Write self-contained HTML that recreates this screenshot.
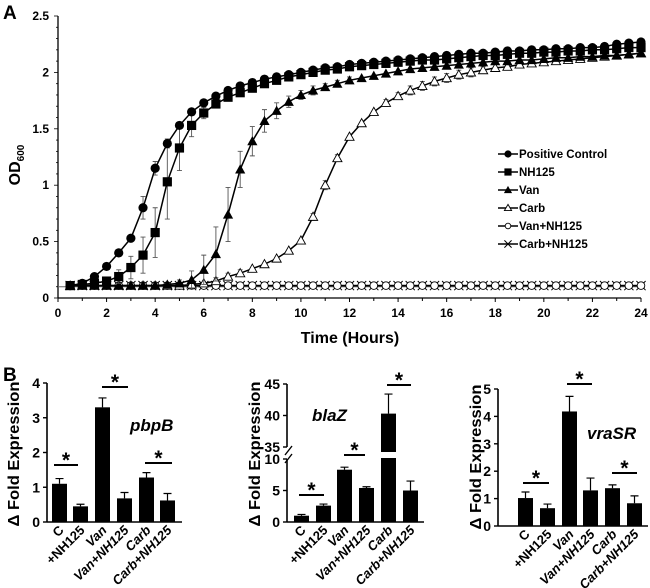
<!DOCTYPE html>
<html><head><meta charset="utf-8"><style>
html,body{margin:0;padding:0;background:#fff;}
svg{display:block;font-family:"Liberation Sans",Arial,sans-serif;font-weight:bold;}
</style></head><body>
<svg id="fig" width="650" height="588" viewBox="0 0 650 588" xmlns="http://www.w3.org/2000/svg">
<text x="3" y="19" font-size="19">A</text>
<text x="3" y="381" font-size="19">B</text>
<g id="topchart"></g>
<g id="bars"></g>
</svg>
<script>
// ---------- Growth curve data ----------
const times = [];
for (let i = 1; i <= 48; i++) times.push(i * 0.5);
const seriesNames = ["Positive Control","NH125","Van","Carb","Van+NH125","Carb+NH125"];
const pcVals = [0.11,0.13,0.19,0.28,0.4,0.53,0.8,1.15,1.37,1.53,1.65,1.73,1.79,1.84,1.88,1.91,1.94,1.96,1.98,2.0,2.02,2.04,2.05,2.07,2.08,2.09,2.1,2.11,2.12,2.13,2.14,2.15,2.16,2.17,2.17,2.18,2.19,2.19,2.2,2.2,2.21,2.21,2.22,2.22,2.23,2.25,2.26,2.27];
const nhVals = [0.11,0.12,0.13,0.15,0.19,0.27,0.38,0.58,1.03,1.33,1.53,1.64,1.72,1.78,1.82,1.86,1.9,1.93,1.96,1.98,2.0,2.02,2.03,2.05,2.06,2.07,2.08,2.09,2.1,2.11,2.11,2.12,2.13,2.14,2.15,2.15,2.16,2.17,2.17,2.18,2.18,2.19,2.19,2.2,2.2,2.21,2.22,2.22];
const vanVals = [0.11,0.11,0.11,0.11,0.11,0.11,0.11,0.11,0.12,0.13,0.16,0.25,0.39,0.74,1.14,1.39,1.57,1.66,1.74,1.8,1.84,1.87,1.9,1.93,1.95,1.97,1.99,2.01,2.03,2.04,2.05,2.06,2.07,2.08,2.09,2.1,2.1,2.11,2.11,2.12,2.13,2.13,2.14,2.14,2.15,2.15,2.16,2.17];
const carbVals = [0.11,0.11,0.11,0.11,0.11,0.11,0.11,0.11,0.11,0.11,0.12,0.13,0.15,0.19,0.22,0.26,0.3,0.35,0.42,0.51,0.72,1.0,1.24,1.43,1.55,1.65,1.73,1.79,1.84,1.88,1.92,1.95,1.98,2.0,2.02,2.04,2.05,2.07,2.08,2.09,2.1,2.11,2.12,2.13,2.14,2.15,2.16,2.17];
const vanNhVals = Array(48).fill(0.11);
const carbNhVals = Array(48).fill(0.11);
const pcErr = [0.01,0.01,0.02,0.02,0.02,0.02,0.1,0.06,0.04,0.02,0.02,0.02,0.02,0.02,0.02,0.02,0.02,0.02,0.02,0.02,0.02,0.02,0.02,0.02,0.02,0.02,0.02,0.02,0.02,0.02,0.02,0.02,0.02,0.02,0.02,0.02,0.02,0.02,0.02,0.02,0.02,0.02,0.02,0.02,0.02,0.02,0.02,0.02];
const nhErr = [0.01,0.01,0.01,0.02,0.06,0.1,0.16,0.22,0.33,0.2,0.1,0.05,0.03,0.02,0.02,0.02,0.02,0.02,0.02,0.02,0.02,0.02,0.02,0.02,0.02,0.02,0.02,0.02,0.02,0.02,0.02,0.02,0.02,0.02,0.02,0.02,0.02,0.02,0.02,0.02,0.02,0.02,0.02,0.02,0.02,0.02,0.02,0.02];
const vanErr = [0.01,0.01,0.01,0.01,0.01,0.01,0.01,0.01,0.01,0.03,0.08,0.13,0.24,0.24,0.16,0.13,0.1,0.07,0.05,0.04,0.04,0.03,0.03,0.03,0.02,0.02,0.02,0.02,0.02,0.02,0.02,0.02,0.02,0.02,0.02,0.02,0.02,0.02,0.02,0.02,0.02,0.02,0.02,0.02,0.02,0.02,0.02,0.02];
const carbErr = [0.01,0.01,0.01,0.01,0.01,0.01,0.01,0.01,0.01,0.01,0.01,0.02,0.03,0.03,0.03,0.02,0.02,0.02,0.02,0.02,0.03,0.04,0.03,0.02,0.02,0.02,0.03,0.03,0.04,0.04,0.04,0.04,0.04,0.04,0.03,0.03,0.02,0.02,0.02,0.02,0.02,0.02,0.02,0.02,0.02,0.02,0.02,0.02];
const yTicks = [0,0.5,1,1.5,2,2.5];
const yTickLabels = ["0","0.5","1","1.5","2","2.5"];
const xTicks = [0,2,4,6,8,10,12,14,16,18,20,22,24];

// ---------- Bar data ----------
const barCats = ["C","+NH125","Van","Van+NH125","Carb","Carb+NH125"];
const barItalic = [false,false,true,true,true,true];
const pbpbVals = [1.1,0.45,3.3,0.68,1.28,0.62];
const pbpbErr = [0.15,0.06,0.27,0.17,0.14,0.2];
const blazVals = [1.0,2.6,8.3,5.4,40.3,5.0];
const blazErr = [0.2,0.25,0.4,0.2,3.1,1.5];
const vrasrVals = [1.02,0.65,4.18,1.3,1.38,0.83];
const vrasrErr = [0.22,0.15,0.55,0.45,0.12,0.27];
const pbpbTicks = [0,1,2,3,4];
const blazLowTicks = [0,5,10];
const blazHighTicks = [35,40,45];
const vrasrTicks = [0,1,2,3,4,5];

const NS = "http://www.w3.org/2000/svg";
function mk(tag, attrs, parent, text) {
  const e = document.createElementNS(NS, tag);
  for (const k in attrs) e.setAttribute(k, attrs[k]);
  if (text !== undefined) e.textContent = text;
  parent.appendChild(e);
  return e;
}

// ---------- Top chart ----------
const topG = document.getElementById('topchart');
const X0 = 58, X1 = 641, Y0 = 298, Y1 = 16;
const xs = t => X0 + t * (X1 - X0) / 24;
const ys = v => Y0 - v * (Y0 - Y1) / 2.5;

let el = mk('line', {x1:X0,y1:Y0,x2:X1,y2:Y0,stroke:'#000','stroke-width':1.3}, topG);


el = mk('line', {x1:X0,y1:Y0,x2:X0,y2:Y1,stroke:'#000','stroke-width':1.3}, topG);


for (let t = 0; t <= 24; t++) {
  el = mk('line', {x1:xs(t),y1:Y0,x2:xs(t),y2:Y0+(t%2===0?4:3),stroke:'#000','stroke-width':1}, topG);
  
  
}
xTicks.forEach(t => {
  el = mk('text', {x:xs(t),y:Y0+19,'font-size':12,'text-anchor':'middle'}, topG, String(t));
  
  
});
for (let k = 0; k <= 25; k++) {
  const v = k * 0.1;
  const major = k % 5 === 0;
  el = mk('line', {x1:X0-(major?4:2),y1:ys(v),x2:X0,y2:ys(v),stroke:'#000','stroke-width':0.8}, topG);
  
  
}
yTicks.forEach((v, i) => {
  el = mk('text', {x:X0-9,y:ys(v)+4,'font-size':12,'text-anchor':'end'}, topG, yTickLabels[i]);
  
  
});
el = mk('text', {x:350,y:343,'font-size':16,'text-anchor':'middle'}, topG, 'Time (Hours)');


el = mk('text', {transform:'translate(20,165) rotate(-90)','font-size':16,'text-anchor':'middle'}, topG);


mk('tspan', {}, el, 'OD');
mk('tspan', {'font-size':10, dy:4}, el, '600');
el = mk('line', {x1:X0,y1:ys(0.1),x2:X1,y2:ys(0.1),stroke:'#666','stroke-width':1}, topG);



const allVals = [pcVals,nhVals,vanVals,carbVals,vanNhVals,carbNhVals];
const allErr = [pcErr,nhErr,vanErr,carbErr,null,null];
const markerTypes = ['circle','square','tri','otri','ocircle','cross'];
function marker(type, x, y, parent, r) {
  r = r || 4.6;
  let m;
  if (type==='circle') m = mk('circle',{cx:x,cy:y,r:r,fill:'#000'},parent);
  else if (type==='square') m = mk('rect',{x:x-r,y:y-r,width:2*r,height:2*r,fill:'#000'},parent);
  else if (type==='tri') m = mk('polygon',{points:`${x},${y-r-0.5} ${x+r+0.5},${y+r-0.5} ${x-r-0.5},${y+r-0.5}`,fill:'#000'},parent);
  else if (type==='otri') m = mk('polygon',{points:`${x},${y-r} ${x+r},${y+r-1} ${x-r},${y+r-1}`,fill:'#fff',stroke:'#000','stroke-width':0.9},parent);
  else if (type==='ocircle') m = mk('circle',{cx:x,cy:y,r:r-0.8,fill:'#fff',stroke:'#000','stroke-width':0.9},parent);
  else m = mk('path',{d:`M${x-r} ${y-r}L${x+r} ${y+r}M${x-r} ${y+r}L${x+r} ${y-r}`,stroke:'#000','stroke-width':1},parent);
  return m;
}
for (let s = 5; s >= 0; s--) {
  const vals = allVals[s], err = allErr[s];
  const g = mk('g', {}, topG);
  
  
  if (err) {
    times.forEach((t, i) => {
      if (err[i] < 0.03) return;
      const x = xs(t), y2 = ys(vals[i] + err[i]), y3 = ys(vals[i] - err[i]);
      const e = mk('path', {d:`M${x} ${y3}L${x} ${y2}M${x-2.5} ${y2}L${x+2.5} ${y2}M${x-2.5} ${y3}L${x+2.5} ${y3}`, stroke:'#555','stroke-width':0.9, fill:'none'}, g);
      
      
    });
  }
  const pts = times.map((t, i) => xs(t).toFixed(1) + ',' + ys(vals[i]).toFixed(1)).join(' ');
  const pl = mk('polyline', {points:pts, fill:'none', stroke:'#000','stroke-width':1.5}, g);
  
  
  times.forEach((t, i) => {
    const m = marker(markerTypes[s], xs(t), ys(vals[i]), g);
    
    
  });
}
const lg = mk('g', {}, topG);


seriesNames.forEach((n, i) => {
  const y = 154 + i * 18;
  const g = mk('g', {}, lg);
  
  
  mk('line', {x1:498,y1:y,x2:518,y2:y,stroke:'#000','stroke-width':1.5}, g);
  marker(markerTypes[i], 508, y, g, 3.6);
  mk('text', {x:519,y:y+4,'font-size':11.5}, g, n);
});

// ---------- Bar charts ----------
const barsG = document.getElementById('bars');
function barPanel(cfg) {
  const g = mk('g', {}, barsG);
  
  
  const ax = cfg.axisX;
  const e1 = mk('line', {x1:ax,y1:cfg.y0,x2:cfg.axisEnd,y2:cfg.y0,stroke:'#000','stroke-width':1.6}, g);
  
  
  cfg.segments.forEach(seg => {
    const a = mk('line', {x1:ax,y1:seg.scale(seg.min),x2:ax,y2:seg.scale(seg.max),stroke:'#000','stroke-width':1.6}, g);
    
    
    seg.ticks.forEach(t => {
      const tk = mk('line', {x1:ax-4,y1:seg.scale(t),x2:ax,y2:seg.scale(t),stroke:'#000','stroke-width':1.4}, g);
      
      
      const tl = mk('text', {x:ax-7,y:seg.scale(t)+5,'font-size':14,'text-anchor':'end'}, g, String(t));
      
      
    });
  });
  const valueY = v => {
    for (const seg of cfg.segments) if (v <= seg.max) return seg.scale(v);
    const s = cfg.segments[cfg.segments.length-1]; return s.scale(v);
  };
  cfg.vals.forEach((v, i) => {
    const x = cfg.barX[i], w = 15, cx = x + w/2;
    const ey = valueY(v + cfg.err[i]), vy = valueY(v);
    const eb = mk('path', {d:`M${cx} ${vy}L${cx} ${ey}M${cx-4} ${ey}L${cx+4} ${ey}`, stroke:'#000','stroke-width':1.2, fill:'none'}, g);
    
    
    const b = mk('rect', {x:x,y:vy,width:w,height:cfg.y0 - vy,fill:'#000'}, g);
    
    
    const lab = mk('text', {transform:`translate(${cx+5},${cfg.y0+9}) rotate(-45)`,'font-size':13,'text-anchor':'end','font-style':barItalic[i]?'italic':'normal'}, g, barCats[i]);
    
    
  });
  if (cfg.breakGap) {
    const bk = mk('path', {d:`M${ax-2} ${cfg.breakGap[0]+3}L${ax+5} ${cfg.breakGap[0]-6}M${ax-2} ${cfg.breakGap[1]+5}L${ax+5} ${cfg.breakGap[1]-4}`, stroke:'#000','stroke-width':1.4}, g);
    
    
    const gap = mk('rect', {x:cfg.barX[4]-1,y:cfg.breakGap[0],width:17,height:cfg.breakGap[1]-cfg.breakGap[0],fill:'#fff'}, g);
    
    
  }
  cfg.sig.forEach(s => {
    const l = mk('line', {x1:s[0],y1:s[2],x2:s[1],y2:s[2],stroke:'#000','stroke-width':2}, g);
    
    
    const a = mk('text', {x:(s[0]+s[1])/2,y:s[2]+2,'font-size':21,'text-anchor':'middle'}, g, '*');
    
    
  });
  const gl = mk('text', {x:cfg.gene[0],y:cfg.gene[1],'font-size':17,'font-style':'italic'}, g, cfg.name);
  
  
  const yt = mk('text', {transform:`translate(${cfg.titleX},${cfg.titleY}) rotate(-90)`,'font-size':16,'text-anchor':'middle',textLength:145,lengthAdjust:'spacingAndGlyphs'}, g, '\u0394 Fold Expression');
  
  
}
barPanel({
  name:'pbpB', axisX:47, axisEnd:182, y0:522,
  segments:[{min:0,max:4,ticks:pbpbTicks,scale:v=>522 - v*(522-383)/4}],
  vals:pbpbVals, err:pbpbErr, barX:[52,73,95,117,139,160],
  sig:[[54,78,465],[102,128,387],[145,172,463]], gene:[130,431], titleX:19, titleY:454
});
barPanel({
  name:'blaZ', axisX:287, axisEnd:424, y0:522,
  segments:[
    {min:0,max:10,ticks:blazLowTicks,scale:v=>522 - v*(522-459)/10},
    {min:35,max:45,ticks:blazHighTicks,scale:v=>447 - (v-35)*(447-384)/10}],
  vals:blazVals, err:blazErr, barX:[294,316,337,359,381,403],
  sig:[[299,324,495],[344,365,455],[387,411,385]], gene:[312,421], titleX:260, titleY:454, breakGap:[452,458]
});
barPanel({
  name:'vraSR', axisX:498, axisEnd:648, y0:526,
  segments:[{min:0,max:5,ticks:vrasrTicks,scale:v=>526 - v*(526-389)/5}],
  vals:vrasrVals, err:vrasrErr, barX:[518,540,562,583,605,627],
  sig:[[523,549,483],[567,592,384],[612,637,473]], gene:[587,439], titleX:481, titleY:457
});
</script>
</body></html>
